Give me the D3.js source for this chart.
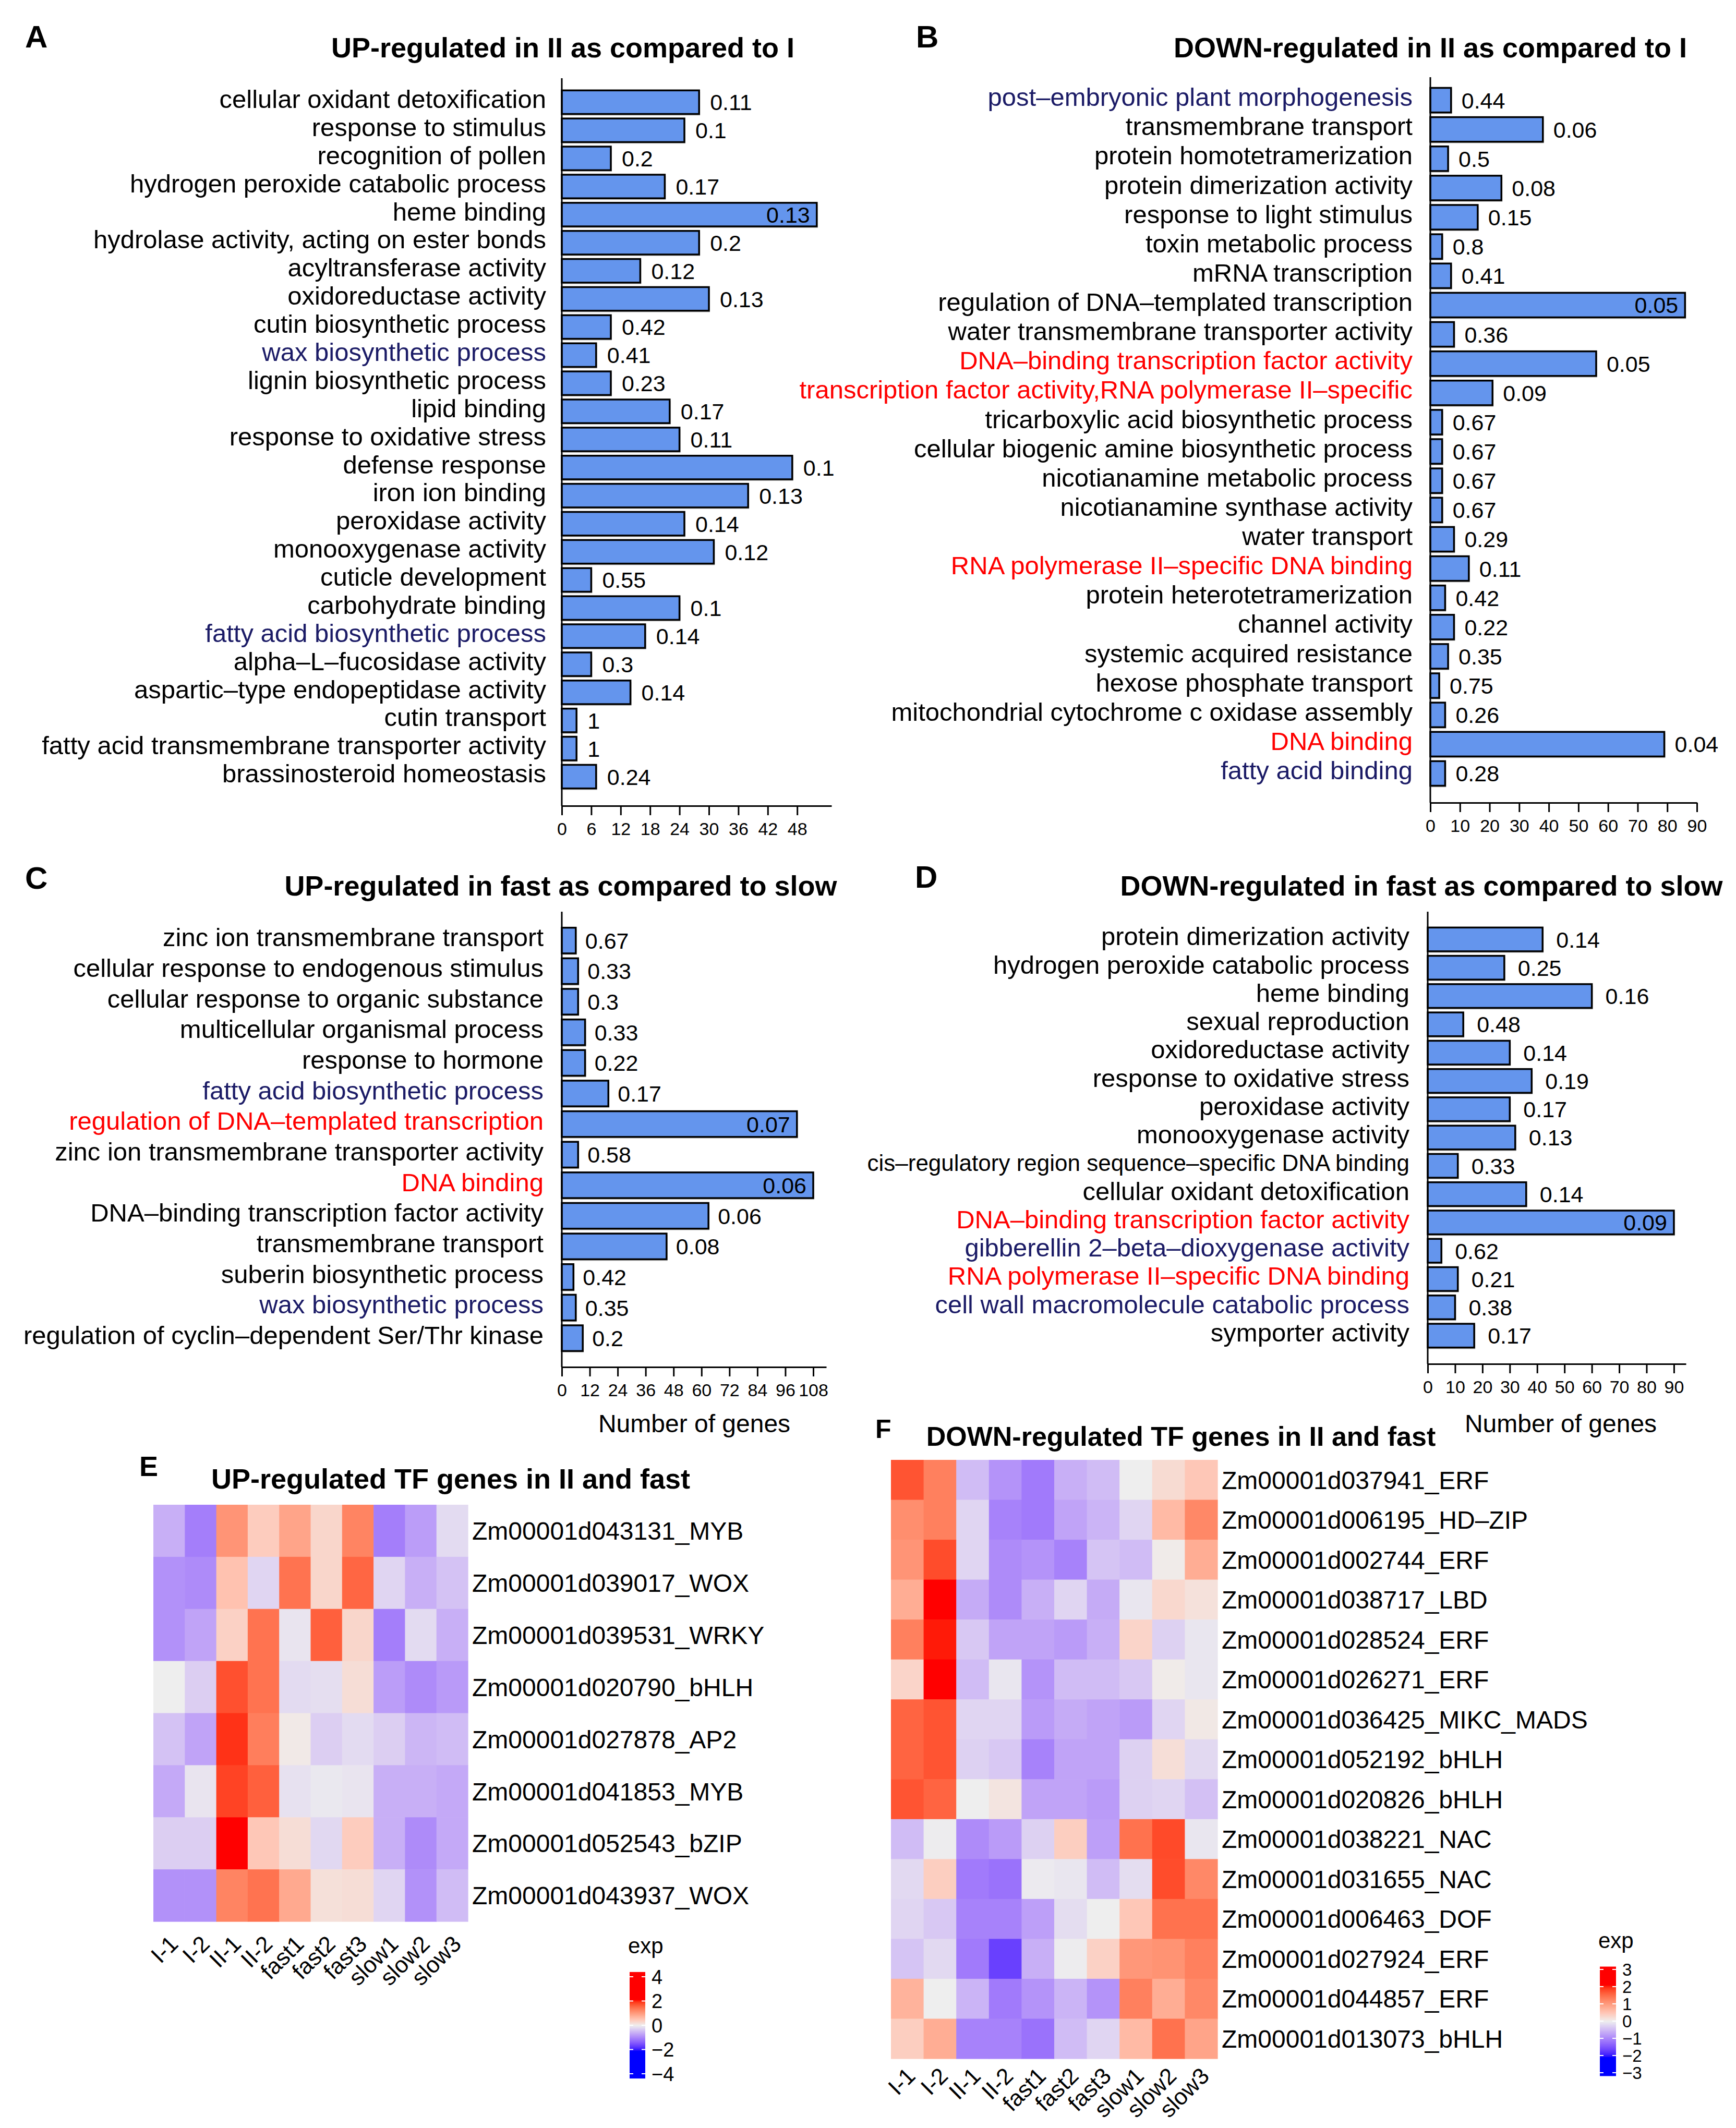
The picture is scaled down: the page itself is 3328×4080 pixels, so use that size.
<!DOCTYPE html>
<html>
<head>
<meta charset="utf-8">
<script src="https://cdn.jsdelivr.net/npm/d3@7"></script>
<style>
body { margin: 0; background: #fff; }
text { font-family: "Liberation Sans", Arial, Helvetica, sans-serif; }
</style>
</head>
<body>
<svg id="fig" width="3328" height="4080"></svg>
<script>
// ---------- data: panel A (UP in II vs I)
const aTerms = ["cellular oxidant detoxification", "response to stimulus", "recognition of pollen",
  "hydrogen peroxide catabolic process", "heme binding", "hydrolase activity, acting on ester bonds",
  "acyltransferase activity", "oxidoreductase activity", "cutin biosynthetic process",
  "wax biosynthetic process", "lignin biosynthetic process", "lipid binding",
  "response to oxidative stress", "defense response", "iron ion binding", "peroxidase activity",
  "monooxygenase activity", "cuticle development", "carbohydrate binding",
  "fatty acid biosynthetic process", "alpha–L–fucosidase activity",
  "aspartic–type endopeptidase activity", "cutin transport",
  "fatty acid transmembrane transporter activity", "brassinosteroid homeostasis"]
const aGenes = [28, 25, 10, 21, 52, 28, 16, 30, 10, 7, 10, 22, 24, 47, 38, 25, 31, 6, 24, 17, 6, 14, 3, 3, 7]
const aPvals = ["0.11", "0.1", "0.2", "0.17", "0.13", "0.2", "0.12", "0.13", "0.42", "0.41", "0.23", "0.17",
  "0.11", "0.1", "0.13", "0.14", "0.12", "0.55", "0.1", "0.14", "0.3", "0.14", "1", "1", "0.24"]
const aTfTerms = []
const aKeyTerms = ["wax biosynthetic process", "fatty acid biosynthetic process"]
const aInside = ["heme binding"]

// ---------- data: panel B (DOWN in II vs I)
const bTerms = ["post–embryonic plant morphogenesis", "transmembrane transport", "protein homotetramerization",
  "protein dimerization activity", "response to light stimulus", "toxin metabolic process",
  "mRNA transcription", "regulation of DNA–templated transcription",
  "water transmembrane transporter activity", "DNA–binding transcription factor activity",
  "transcription factor activity,RNA polymerase II–specific", "tricarboxylic acid biosynthetic process",
  "cellular biogenic amine biosynthetic process", "nicotianamine metabolic process",
  "nicotianamine synthase activity", "water transport", "RNA polymerase II–specific DNA binding",
  "protein heterotetramerization", "channel activity", "systemic acquired resistance",
  "hexose phosphate transport", "mitochondrial cytochrome c oxidase assembly", "DNA binding",
  "fatty acid binding"]
const bGenes = [7, 38, 6, 24, 16, 4, 7, 86, 8, 56, 21, 4, 4, 4, 4, 8, 13, 5, 8, 6, 3, 5, 79, 5]
const bPvals = ["0.44", "0.06", "0.5", "0.08", "0.15", "0.8", "0.41", "0.05", "0.36", "0.05", "0.09", "0.67",
  "0.67", "0.67", "0.67", "0.29", "0.11", "0.42", "0.22", "0.35", "0.75", "0.26", "0.04", "0.28"]
const bTfTerms = ["DNA–binding transcription factor activity",
  "transcription factor activity,RNA polymerase II–specific",
  "RNA polymerase II–specific DNA binding", "DNA binding"]
const bKeyTerms = ["post–embryonic plant morphogenesis", "fatty acid binding"]
const bInside = ["regulation of DNA–templated transcription"]

// ---------- data: panel C (UP in fast vs slow)
const cTerms = ["zinc ion transmembrane transport", "cellular response to endogenous stimulus",
  "cellular response to organic substance", "multicellular organismal process", "response to hormone",
  "fatty acid biosynthetic process", "regulation of DNA–templated transcription",
  "zinc ion transmembrane transporter activity", "DNA binding",
  "DNA–binding transcription factor activity", "transmembrane transport",
  "suberin biosynthetic process", "wax biosynthetic process",
  "regulation of cyclin–dependent Ser/Thr kinase"]
const cGenes = [6, 7, 7, 10, 10, 20, 101, 7, 108, 63, 45, 5, 6, 9]
const cPvals = ["0.67", "0.33", "0.3", "0.33", "0.22", "0.17", "0.07", "0.58", "0.06", "0.06", "0.08",
  "0.42", "0.35", "0.2"]
const cTfTerms = ["regulation of DNA–templated transcription", "DNA binding"]
const cKeyTerms = ["fatty acid biosynthetic process", "wax biosynthetic process"]
const cInside = ["regulation of DNA–templated transcription", "DNA binding"]

// ---------- data: panel D (DOWN in fast vs slow)
const dTerms = ["protein dimerization activity", "hydrogen peroxide catabolic process", "heme binding",
  "sexual reproduction", "oxidoreductase activity", "response to oxidative stress",
  "peroxidase activity", "monooxygenase activity",
  "cis–regulatory region sequence–specific DNA binding", "cellular oxidant detoxification",
  "DNA–binding transcription factor activity", "gibberellin 2–beta–dioxygenase activity",
  "RNA polymerase II–specific DNA binding", "cell wall macromolecule catabolic process",
  "symporter activity"]
const dGenes = [42, 28, 60, 13, 30, 38, 30, 32, 11, 36, 90, 5, 11, 10, 17]
const dPvals = ["0.14", "0.25", "0.16", "0.48", "0.14", "0.19", "0.17", "0.13", "0.33", "0.14", "0.09",
  "0.62", "0.21", "0.38", "0.17"]
const dTfTerms = ["DNA–binding transcription factor activity", "RNA polymerase II–specific DNA binding"]
const dKeyTerms = ["gibberellin 2–beta–dioxygenase activity", "cell wall macromolecule catabolic process"]
const dInside = ["DNA–binding transcription factor activity"]

// ---------- data: heatmaps
const samples = ["I-1", "I-2", "II-1", "II-2", "fast1", "fast2", "fast3", "slow1", "slow2", "slow3"]

const eGenes = ["Zm00001d043131_MYB", "Zm00001d039017_WOX", "Zm00001d039531_WRKY", "Zm00001d020790_bHLH",
  "Zm00001d027878_AP2", "Zm00001d041853_MYB", "Zm00001d052543_bZIP", "Zm00001d043937_WOX"]
const eExp = [
  [-0.60, -1.08, 1.08, 0.42, 0.90, 0.30, 1.26, -1.08, -0.78, -0.18],
  [-0.90, -0.96, 0.54, -0.24, 1.44, 0.30, 1.56, -0.24, -0.60, -0.42],
  [-0.90, -0.72, 0.36, 1.44, -0.09, 1.62, 0.30, -1.08, -0.18, -0.60],
  [0.00, -0.30, 1.75, 1.44, -0.18, -0.15, 0.21, -0.78, -0.96, -0.81],
  [-0.42, -0.72, 1.95, 1.32, 0.06, -0.30, -0.18, -0.30, -0.54, -0.48],
  [-0.66, -0.09, 1.85, 1.62, -0.12, -0.06, -0.09, -0.60, -0.60, -0.66],
  [-0.30, -0.30, 3.90, 0.48, 0.21, -0.21, 0.42, -0.60, -0.96, -0.66],
  [-0.90, -0.90, 1.26, 1.44, 0.84, 0.18, 0.21, -0.24, -0.90, -0.48]]
const eTicks = [4, 2, 0, -2, -4]

const fGenes = ["Zm00001d037941_ERF", "Zm00001d006195_HD–ZIP", "Zm00001d002744_ERF", "Zm00001d038717_LBD",
  "Zm00001d028524_ERF", "Zm00001d026271_ERF", "Zm00001d036425_MIKC_MADS", "Zm00001d052192_bHLH",
  "Zm00001d020826_bHLH", "Zm00001d038221_NAC", "Zm00001d031655_NAC", "Zm00001d006463_DOF",
  "Zm00001d027924_ERF", "Zm00001d044857_ERF", "Zm00001d013073_bHLH"]
const fExp = [
  [1.72, 1.30, -0.48, -0.88, -1.12, -0.60, -0.48, 0.00, 0.24, 0.48],
  [1.15, 1.30, -0.24, -1.04, -1.12, -0.72, -0.56, -0.24, 0.64, 1.22],
  [1.08, 1.78, -0.24, -0.96, -0.88, -1.04, -0.40, -0.48, 0.04, 0.80],
  [0.80, 2.90, -0.64, -0.96, -0.60, -0.24, -0.64, -0.08, 0.28, 0.16],
  [1.30, 2.05, -0.36, -0.72, -0.72, -0.80, -0.60, 0.32, -0.28, -0.08],
  [0.32, 2.80, -0.48, -0.08, -0.88, -0.48, -0.48, -0.36, 0.04, -0.08],
  [1.58, 1.72, -0.24, -0.24, -0.80, -0.64, -0.72, -0.80, -0.24, 0.08],
  [1.58, 1.72, -0.28, -0.36, -1.04, -0.72, -0.72, -0.28, 0.20, -0.20],
  [1.72, 1.58, 0.00, 0.12, -0.72, -0.72, -0.80, -0.28, -0.24, -0.44],
  [-0.48, -0.02, -0.96, -0.80, -0.28, 0.40, -0.76, 1.45, 1.80, -0.08],
  [-0.20, 0.40, -1.12, -1.20, -0.04, -0.08, -0.48, -0.16, 1.78, 1.22],
  [-0.24, -0.36, -1.04, -1.04, -0.76, -0.16, 0.00, 0.48, 1.45, 1.45],
  [-0.40, -0.20, -1.12, -1.68, -0.60, -0.02, 0.36, 1.05, 1.10, 1.30],
  [0.72, 0.00, -0.56, -1.12, -0.88, -0.56, -0.88, 1.30, 0.80, 1.22],
  [0.40, 0.80, -1.04, -1.04, -1.20, -0.48, -0.24, 0.64, 1.45, 0.90]]
const fTicks = [3, 2, 1, 0, -1, -2, -3]

// ---------- drawing
const svg = d3.select("#fig")
const NAVY = "#1b1b66", RED = "#ff0000", BAR = "#6495ed"

function panelLetter(t, x, y, size) {
  svg.append("text").attr("x", x).attr("y", y).attr("font-size", size)
    .attr("font-weight", "bold").text(t)
}

function title(t, x, y) {
  svg.append("text").attr("x", x).attr("y", y).attr("text-anchor", "middle")
    .attr("font-size", 54).attr("font-weight", "bold").text(t)
}

function barPanel(p) {
  const g = svg.append("g")
  const x = d3.scaleLinear().domain([0, p.xMax]).range([p.x0, p.x1])
  const y = d3.scaleBand().domain(p.terms).range([p.yTop, p.yBot])
    .paddingInner(0.16).paddingOuter(0.08)
  const rows = p.terms.map((t, i) => ({term: t, n: p.genes[i], pv: p.pvals[i]}))

  g.selectAll("rect.shadow").data(rows).join("rect").attr("class", "shadow")
    .attr("x", x(0) + 2).attr("y", d => y(d.term) + 3)
    .attr("width", d => x(d.n) - x(0)).attr("height", y.bandwidth())
    .attr("fill", "#c9c9c9")
  g.selectAll("rect.bar").data(rows).join("rect").attr("class", "bar")
    .attr("x", x(0)).attr("y", d => y(d.term))
    .attr("width", d => x(d.n) - x(0)).attr("height", y.bandwidth())
    .attr("fill", BAR).attr("stroke", "#000").attr("stroke-width", 3.5)

  g.append("line").attr("x1", x(0)).attr("x2", x(0))
    .attr("y1", p.axisTop).attr("y2", p.axisY)
    .attr("stroke", "#000").attr("stroke-width", 3)

  const ax = g.append("g").attr("transform", `translate(0,${p.axisY})`)
    .call(d3.axisBottom(x).tickValues(p.ticks).tickSize(18).tickSizeOuter(0).tickPadding(14))
  ax.select(".domain").attr("stroke-width", 3)
  ax.selectAll(".tick line").attr("stroke-width", 3)
  ax.selectAll(".tick text").attr("font-size", 34).attr("fill", "#000")
    .attr("font-family", '"Liberation Sans", Arial, sans-serif')

  g.selectAll("text.term").data(rows).join("text").attr("class", "term")
    .attr("x", x(0) - p.labelGap).attr("y", d => y(d.term) + y.bandwidth() / 2 - 6)
    .attr("dy", "0.35em").attr("text-anchor", "end")
    .attr("font-size", d => d.term.length > 48 && p.shrinkLong ? 44 : 49)
    .attr("fill", d => p.tf.includes(d.term) ? RED : p.key.includes(d.term) ? NAVY : "#000")
    .text(d => d.term)

  g.selectAll("text.pv").data(rows).join("text").attr("class", "pv")
    .attr("x", d => p.inside.includes(d.term) ? x(d.n) - 13 : x(d.n) + p.pGap)
    .attr("y", d => y(d.term) + y.bandwidth() / 2)
    .attr("dy", "0.36em")
    .attr("text-anchor", d => p.inside.includes(d.term) ? "end" : "start")
    .attr("font-size", 43)
    .text(d => d.pv)

  if (p.xLabel) {
    g.append("text").attr("x", p.xLabel[0]).attr("y", p.xLabel[1])
      .attr("text-anchor", "middle").attr("font-size", 48).text("Number of genes")
  }
}

barPanel({terms: aTerms, genes: aGenes, pvals: aPvals, tf: aTfTerms, key: aKeyTerms, inside: aInside,
  xMax: 55, x0: 1077, x1: 1594, yTop: 169, yBot: 1516, axisTop: 150, axisY: 1545,
  ticks: d3.range(0, 49, 6), labelGap: 30, pGap: 21})
barPanel({terms: bTerms, genes: bGenes, pvals: bPvals, tf: bTfTerms, key: bKeyTerms, inside: bInside,
  xMax: 90, x0: 2742, x1: 3253, yTop: 164, yBot: 1511, axisTop: 148, axisY: 1539,
  ticks: d3.range(0, 91, 10), labelGap: 34, pGap: 20})
barPanel({terms: cTerms, genes: cGenes, pvals: cPvals, tf: cTfTerms, key: cKeyTerms, inside: cInside,
  xMax: 113.6, x0: 1077, x1: 1584, yTop: 1774, yBot: 2595, axisTop: 1748, axisY: 2621,
  ticks: d3.range(0, 109, 12), labelGap: 35, pGap: 18, xLabel: [1331, 2746]})
barPanel({terms: dTerms, genes: dGenes, pvals: dPvals, tf: dTfTerms, key: dKeyTerms, inside: dInside,
  xMax: 94.4, x0: 2737, x1: 3232, yTop: 1774, yBot: 2588, axisTop: 1748, axisY: 2615,
  ticks: d3.range(0, 91, 10), labelGap: 35, pGap: 26, xLabel: [2992, 2746], shrinkLong: true})

title("UP-regulated in II as compared to I", 1079, 110)
title("DOWN-regulated in II as compared to I", 2742, 110)
title("UP-regulated in fast as compared to slow", 1075, 1717)
title("DOWN-regulated in fast as compared to slow", 2725, 1717)
panelLetter("A", 48, 91, 60)
panelLetter("B", 1756, 91, 60)
panelLetter("C", 48, 1704, 60)
panelLetter("D", 1754, 1702, 60)

function heatPanel(h) {
  const g = svg.append("g")
  const x = d3.scaleBand().domain(samples).range([h.x0, h.x1])
  const y = d3.scaleBand().domain(h.genes).range([h.y0, h.y1])
  const color = d3.scaleLinear()
    .domain([-h.lim, -2.1, 0, 2.1, h.lim])
    .range(["#0000ff", "#0000ff", "#eeeeee", "#ff0000", "#ff0000"])
    .interpolate(d3.interpolateLab).clamp(true)
  const cells = h.values.flatMap((row, i) => row.map((v, j) => ({gene: h.genes[i], s: samples[j], v})))

  g.selectAll("rect.cell").data(cells).join("rect").attr("class", "cell")
    .attr("x", d => x(d.s)).attr("y", d => y(d.gene))
    .attr("width", x.bandwidth() + 0.6).attr("height", y.bandwidth() + 0.6)
    .attr("fill", d => color(d.v))

  g.selectAll("text.gene").data(h.genes).join("text").attr("class", "gene")
    .attr("x", h.x1 + 8).attr("y", d => y(d) + y.bandwidth() / 2)
    .attr("dy", "0.36em").attr("font-size", 48).text(d => d)

  g.selectAll("text.sample").data(samples).join("text").attr("class", "sample")
    .attr("transform", d => `translate(${x(d) + x.bandwidth() / 2 + h.colDx},${h.y1 + h.colDy}) rotate(-45)`)
    .attr("text-anchor", "end").attr("font-size", 44).text(d => d)

  // legend
  const ly = d3.scaleLinear().domain([0, h.ticks[0]]).range([h.lZero, h.lTop])
  const lg = g.append("g")
  lg.append("text").attr("x", h.lx - 3).attr("y", h.expY).attr("font-size", 42).text("exp")
  const steps = d3.range(h.lMin, h.lMax, (h.lMax - h.lMin) / 150)
  const stepH = Math.abs(ly(steps[1]) - ly(steps[0]))
  lg.selectAll("rect").data(steps).join("rect")
    .attr("x", h.lx).attr("width", h.lw)
    .attr("y", d => ly(d) - stepH - 0.5).attr("height", stepH + 1)
    .attr("fill", d => color(d + (h.lMax - h.lMin) / 300))
  h.ticks.forEach(t => {
    lg.append("line").attr("x1", h.lx).attr("x2", h.lx + 7).attr("y1", ly(t)).attr("y2", ly(t))
      .attr("stroke", "#fff").attr("stroke-width", 2)
    lg.append("line").attr("x1", h.lx + h.lw - 7).attr("x2", h.lx + h.lw).attr("y1", ly(t)).attr("y2", ly(t))
      .attr("stroke", "#fff").attr("stroke-width", 2)
  })
  lg.selectAll("text.tick").data(h.ticks).join("text").attr("class", "tick")
    .attr("x", h.lx + h.lw + 12).attr("y", d => ly(d)).attr("dy", "0.36em")
    .attr("font-size", h.tickFont).text(d => d3.format("d")(d))
}

heatPanel({genes: eGenes, values: eExp, lim: 4, ticks: eTicks, tickFont: 38,
  x0: 294, x1: 897, y0: 2885, y1: 3684, colDx: 20, colDy: 46,
  lx: 1207, lw: 30, lZero: 3883, lTop: 3790, lMin: -4.37, lMax: 4.37, expY: 3745})
heatPanel({genes: fGenes, values: fExp, lim: 3, ticks: fTicks, tickFont: 33,
  x0: 1708, x1: 2334, y0: 2799, y1: 3947, colDx: 18, colDy: 36,
  lx: 3067, lw: 31, lZero: 3875, lTop: 3776, lMin: -3.18, lMax: 3.15, expY: 3735})

svg.append("text").attr("x", 864).attr("y", 2854).attr("text-anchor", "middle")
  .attr("font-size", 54).attr("font-weight", "bold").text("UP-regulated TF genes in II and fast")
svg.append("text").attr("x", 2264).attr("y", 2772).attr("text-anchor", "middle")
  .attr("font-size", 52).attr("font-weight", "bold").text("DOWN-regulated TF genes in II and fast")
panelLetter("E", 267, 2830, 54)
panelLetter("F", 1678, 2757, 50)
</script>
</body>
</html>
